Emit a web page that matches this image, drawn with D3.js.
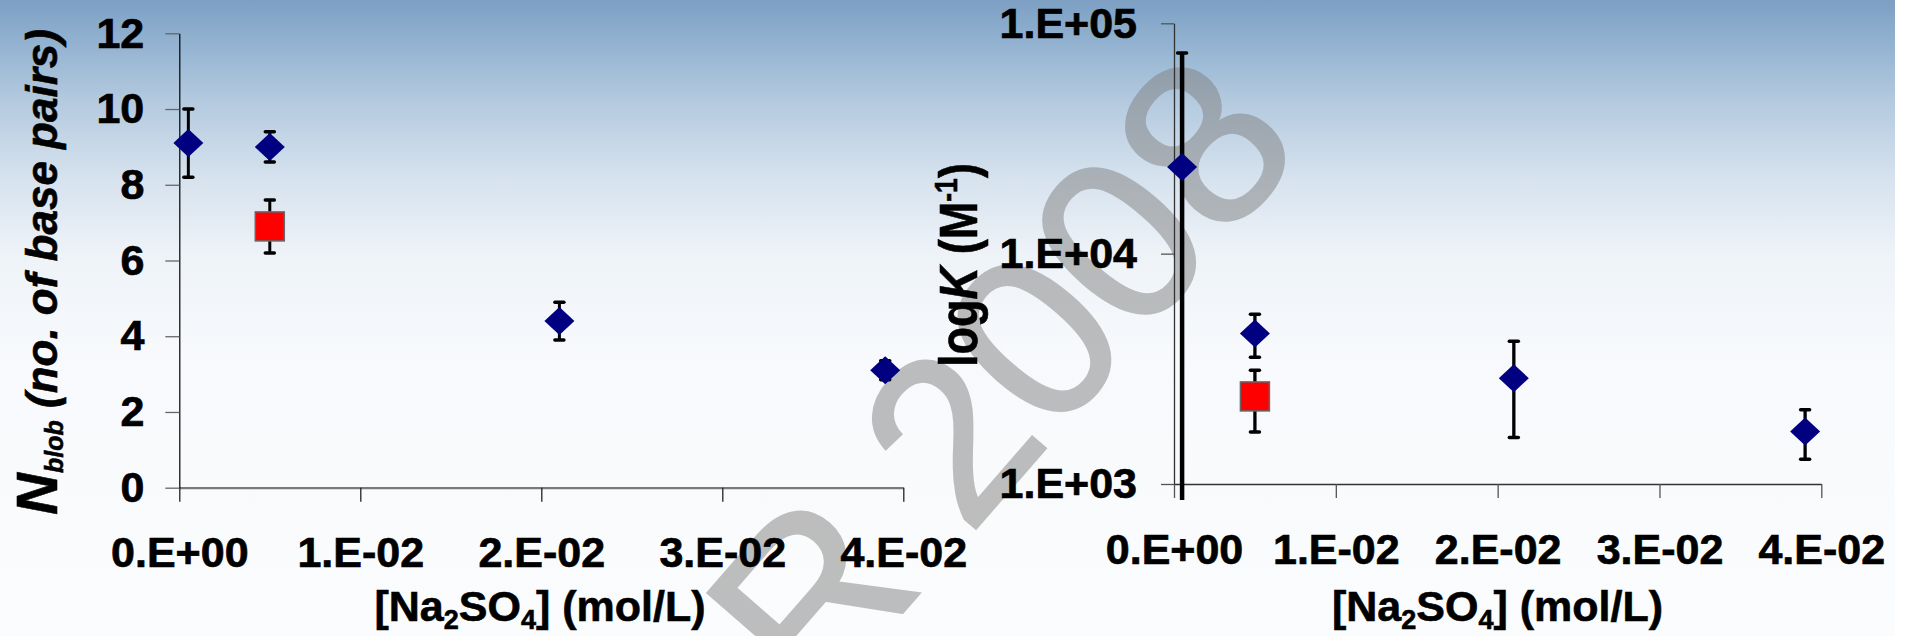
<!DOCTYPE html>
<html>
<head>
<meta charset="utf-8">
<script src="https://cdn.jsdelivr.net/npm/d3@7"></script>
<style>
  html, body { margin: 0; padding: 0; background: #fff; }
  svg { display: block; font-family: "Liberation Sans", Arial, sans-serif; }
</style>
</head>
<body>
<div class="chart"></div>
<script>
// ---- data ----
const xTicks = [0, 0.01, 0.02, 0.03, 0.04];
const xLabels = ["0.E+00", "1.E-02", "2.E-02", "3.E-02", "4.E-02"];
const nTicks = [0, 2, 4, 6, 8, 10, 12];
const kTicks = [1e3, 1e4, 1e5];
const kLabels = ["1.E+03", "1.E+04", "1.E+05"];

// blue diamonds
const saltConc = [0.0005, 0.005, 0.021, 0.039];
const nblobBlue = [9.1, 9.0, 4.4, 3.1];
const nblobBlueErr = [0.9, 0.4, 0.5, 0.25];
const kBlue = [23800, 4500, 2880, 1690];
const kBlueErr = [50500, 950, 1290, 410];

// red square
const redConc = [0.005];
const nblobRed = [6.9];
const nblobRedErr = [0.7];
const kRed = [2400];
const kRedErr = [720];

const width = 1907, height = 636;

const svg = d3.select(".chart").append("svg")
    .attr("width", width)
    .attr("height", height)
    .attr("viewBox", [0, 0, width, height]);

// background gradient
const defs = svg.append("defs");
const grad = defs.append("linearGradient")
    .attr("id", "bg").attr("x1", 0).attr("y1", 0).attr("x2", 0).attr("y2", 1);
[["0%", "#7c9fc3"], ["6%", "#90b0cf"], ["16%", "#b4cadf"], ["28%", "#d6e2ee"],
 ["40%", "#eef3f8"], ["55%", "#f7f9fc"], ["100%", "#fbfcfd"]]
    .forEach(s => grad.append("stop").attr("offset", s[0]).attr("stop-color", s[1]));
svg.append("rect").attr("width", 1895).attr("height", height).attr("fill", "url(#bg)");

// watermark
svg.append("text")
    .attr("transform", "translate(816,712) rotate(-49)")
    .attr("font-size", 232)
    .attr("fill", "#808080")
    .attr("stroke", "#808080").attr("stroke-width", 3)
    .attr("opacity", 0.5)
    .text("R 2008");

const font = "\"Liberation Sans\", Arial, sans-serif";

function styleAxis(g, lineColor, lineWidth, tickColor) {
    g.attr("font-size", 43).attr("font-weight", "bold").attr("font-family", font);
    g.selectAll(".tick text").attr("fill", "#000").attr("stroke", "#000").attr("stroke-width", 0.7);
    g.select(".domain").attr("stroke", lineColor).attr("stroke-width", lineWidth);
    g.selectAll(".tick line").attr("stroke", tickColor).attr("stroke-width", 1.3);
}

function diamond(g, x, y) {
    g.append("path")
        .attr("d", `M${x},${y - 14}L${x + 15},${y}L${x},${y + 14}L${x - 15},${y}Z`)
        .attr("fill", "#000080");
}
function square(g, x, y) {
    g.append("rect")
        .attr("x", x - 14.5).attr("y", y - 14.5)
        .attr("width", 29).attr("height", 29)
        .attr("fill", "#ff0000")
        .attr("stroke", "#666").attr("stroke-width", 1.5);
}
function errBar(g, x, yTop, yBot, sw, bottomCap) {
    g.append("line").attr("x1", x).attr("x2", x).attr("y1", yTop).attr("y2", yBot)
        .attr("stroke", "#000").attr("stroke-width", sw);
    g.append("line").attr("x1", x - 4.5).attr("x2", x + 4.5).attr("y1", yTop).attr("y2", yTop)
        .attr("stroke", "#000").attr("stroke-width", 3.5).attr("stroke-linecap", "round");
    if (bottomCap) {
        g.append("line").attr("x1", x - 4.5).attr("x2", x + 4.5).attr("y1", yBot).attr("y2", yBot)
            .attr("stroke", "#000").attr("stroke-width", 3.5).attr("stroke-linecap", "round");
    }
}

// ============ left chart: N_blob ============
const x1 = d3.scaleLinear().domain([0, 0.04]).range([179.3, 903.3]);
const y1 = d3.scaleLinear().domain([0, 12]).range([487.7, 33.3]);

const left = svg.append("g");

left.append("g")
    .attr("transform", `translate(0,${y1(0)})`)
    .call(d3.axisBottom(x1).tickValues(xTicks).tickFormat((d, i) => xLabels[i])
        .tickSize(14).tickSizeOuter(0).tickPadding(35))
    .call(g => styleAxis(g, "#7a7a7a", 2.2, "#222"));

left.append("g")
    .attr("transform", `translate(${x1(0)},0)`)
    .call(d3.axisLeft(y1).tickValues(nTicks).tickFormat(d3.format("d"))
        .tickSize(14).tickSizeOuter(0).tickPadding(21))
    .call(g => styleAxis(g, "#000", 1.2, "#666"));

saltConc.forEach((c, i) => {
    errBar(left, x1(c), y1(nblobBlue[i] + nblobBlueErr[i]), y1(nblobBlue[i] - nblobBlueErr[i]), 3, true);
});
redConc.forEach((c, i) => {
    errBar(left, x1(c), y1(nblobRed[i] + nblobRedErr[i]), y1(nblobRed[i] - nblobRedErr[i]), 3, true);
});
saltConc.forEach((c, i) => diamond(left, x1(c), y1(nblobBlue[i])));
redConc.forEach((c, i) => square(left, x1(c), y1(nblobRed[i])));

// titles
function xTitle(g, cx) {
    const t = g.append("text")
        .attr("x", cx).attr("y", 621)
        .attr("text-anchor", "middle")
        .attr("font-size", 43).attr("font-weight", "bold")
        .attr("stroke", "#000").attr("stroke-width", 0.6);
    t.append("tspan").text("[Na");
    t.append("tspan").attr("font-size", 27).attr("dy", 8).text("2");
    t.append("tspan").attr("dy", -8).text("SO");
    t.append("tspan").attr("font-size", 27).attr("dy", 8).text("4");
    t.append("tspan").attr("dy", -8).text("] (mol/L)");
}
xTitle(left, 540);

const ly = left.append("text")
    .attr("transform", "translate(57,272) rotate(-90)")
    .attr("text-anchor", "middle")
    .attr("font-weight", "bold").attr("font-style", "italic")
    .attr("stroke", "#000").attr("stroke-width", 0.6);
ly.append("tspan").attr("font-size", 58).text("N");
ly.append("tspan").attr("font-size", 25).attr("dy", 6).text("blob");
ly.append("tspan").attr("font-size", 44).attr("dy", -6).text(" (no. of base pairs)");

// ============ right chart: log K ============
const x2 = d3.scaleLinear().domain([0, 0.04]).range([1174, 1821.3]);
const y2 = d3.scaleLog().domain([1e3, 1e5]).range([484, 23.3]);

const right = svg.append("g");

right.append("g")
    .attr("transform", `translate(0,${y2(1e3)})`)
    .call(d3.axisBottom(x2).tickValues(xTicks).tickFormat((d, i) => xLabels[i])
        .tickSize(14).tickSizeOuter(0).tickPadding(35))
    .call(g => styleAxis(g, "#333", 1.3, "#555"));

right.append("g")
    .attr("transform", `translate(${x2(0)},0)`)
    .call(d3.axisLeft(y2).tickValues(kTicks).tickFormat((d, i) => kLabels[i])
        .tickSize(13).tickSizeOuter(0).tickPadding(24))
    .call(g => styleAxis(g, "#333", 1.3, "#555"));

const yBottom = y2.range()[0] + 16;
saltConc.forEach((c, i) => {
    const lo = kBlue[i] - kBlueErr[i];
    const yLo = lo > y2.domain()[0] ? y2(lo) : yBottom;
    errBar(right, x2(c), y2(kBlue[i] + kBlueErr[i]), yLo, lo > 0 ? 3.3 : 4.5, lo > y2.domain()[0]);
});
redConc.forEach((c, i) => {
    errBar(right, x2(c), y2(kRed[i] + kRedErr[i]), y2(kRed[i] - kRedErr[i]), 3.3, true);
});
saltConc.forEach((c, i) => diamond(right, x2(c), y2(kBlue[i])));
redConc.forEach((c, i) => square(right, x2(c), y2(kRed[i])));

xTitle(right, 1497.5);

const ry = right.append("text")
    .attr("text-anchor", "middle")
    .attr("font-size", 54).attr("font-weight", "bold")
    .attr("stroke", "#000").attr("stroke-width", 0.6);
ry.append("tspan").text("log");
ry.append("tspan").attr("font-style", "italic").text("K");
ry.append("tspan").text(" (M");
ry.append("tspan").attr("font-size", 32).attr("dy", -20).text("-1");
ry.append("tspan").attr("dy", 20).text(")");
// squeeze the label along its length to the size it has in the picture
const ryLen = ry.node().getComputedTextLength();
ry.attr("transform", `translate(977,265) rotate(-90) scale(${204 / ryLen},1)`);
</script>
</body>
</html>
